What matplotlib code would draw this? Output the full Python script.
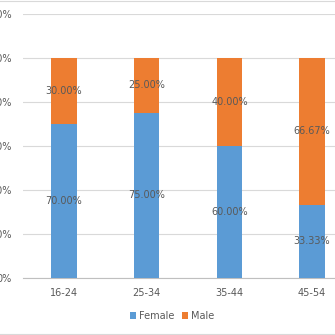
import matplotlib.pyplot as plt
from matplotlib.lines import Line2D
from matplotlib.ticker import FuncFormatter

# age groups and share of each sex (percent)
ages = ['16-24', '25-34', '35-44', '45-54']
female = [70.00, 75.00, 60.00, 33.33]
male = [30.00, 25.00, 40.00, 66.67]

blue = '#5B9BD5'
orange = '#ED7D31'
grey_txt = '#595959'

fig = plt.figure(figsize=(3.35, 3.35), dpi=100)
# axes runs past the right edge, like the cropped original
ax = fig.add_axes([22.5 / 335, 1 - 278 / 335, 331 / 335, 264 / 335])

x = range(len(ages))
w = 0.31
ax.bar(x, female, width=w, color=blue, label='Female', zorder=3)
ax.bar(x, male, width=w, bottom=female, color=orange, label='Male', zorder=3)

# data labels centred in each segment
for i in x:
    ax.text(i, female[i] / 2, f'{female[i]:.2f}%', ha='center', va='center',
            fontsize=7, color=grey_txt, zorder=4)
    ax.text(i, female[i] + male[i] / 2, f'{male[i]:.2f}%', ha='center',
            va='center', fontsize=7, color=grey_txt, zorder=4)

ax.set_xlim(-0.5, 3.5)
ax.set_ylim(0, 120)
ax.set_yticks(range(0, 121, 20))
ax.yaxis.set_major_formatter(FuncFormatter(lambda v, p: f'{v:.0f}%'))
ax.set_xticks(list(x))
ax.set_xticklabels(ages)
ax.grid(axis='y', color='#D9D9D9', linewidth=0.8, zorder=0)
ax.tick_params(axis='both', length=0, labelsize=7, colors=grey_txt)
ax.tick_params(axis='y', pad=7.5)
ax.tick_params(axis='x', pad=7)
for s in ['top', 'right', 'left']:
    ax.spines[s].set_visible(False)
ax.spines['bottom'].set_color('#BFBFBF')
ax.spines['bottom'].set_linewidth(0.8)

fig.legend(loc='center', bbox_to_anchor=(172 / 335, 1 - 316 / 335), ncol=2,
           frameon=False, fontsize=7, handlelength=0.6, handleheight=0.6,
           handletextpad=0.3, columnspacing=0.8, labelcolor=grey_txt)

# chart border lines at top and bottom of the crop
fig.add_artist(Line2D([0, 1], [0.997, 0.997], color='#D9D9D9', linewidth=0.8))
fig.add_artist(Line2D([0, 1], [1 - 333.5 / 335, 1 - 333.5 / 335],
                      color='#D9D9D9', linewidth=0.8))

fig.savefig('out.png', dpi=100)
